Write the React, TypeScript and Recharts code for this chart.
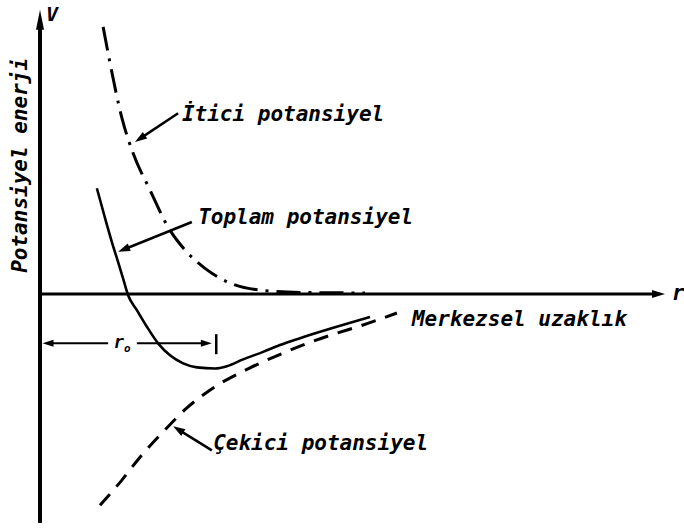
import React from "react";
import { ComposedChart, Line, XAxis, YAxis, ReferenceLine, ReferenceDot } from "recharts";

// repulsive potential (dash-dot)
const iticiR = [1.01, 1.12, 1.31, 1.49, 1.76, 2.05, 2.32, 2.64, 3.07, 3.52, 4.16, 5.2];
const iticiV = [4.67, 4.04, 3.08, 2.46, 1.82, 1.17, 0.77, 0.45, 0.18, 0.07, 0.03, 0.02];

// total potential (solid)
const toplamR = [0.91, 1.04, 1.15, 1.25, 1.33, 1.41, 1.55, 1.71, 1.89, 2.08, 2.29, 2.51, 2.8, 2.99, 3.25, 3.57, 3.84, 4.16, 4.72, 5.28];
const toplamV = [1.85, 1.33, 0.91, 0.56, 0.27, -0.02, -0.28, -0.57, -0.86, -1.07, -1.21, -1.28, -1.3, -1.26, -1.14, -1.01, -0.89, -0.77, -0.58, -0.4];

// attractive potential (dashed)
const cekiciR = [0.96, 1.31, 1.6, 1.95, 2.35, 2.77, 3.36, 3.89, 4.64, 5.17, 5.71];
const cekiciV = [-3.69, -3.25, -2.85, -2.43, -1.99, -1.64, -1.29, -1.03, -0.72, -0.54, -0.33];

const curveLabels = ["İtici potansiyel", "Toplam potansiyel", "Çekici potansiyel"];
const xTitle = "Merkezsel uzaklık";
const yTitle = "Potansiyel enerji";
const r0 = 2.82;

const zip = (xs: number[], ys: number[]) => xs.map((x, i) => ({ x, y: ys[i] }));
const itici = zip(iticiR, iticiV);
const toplam = zip(toplamR, toplamV);
const cekici = zip(cekiciR, cekiciV);

const FONT = '"DejaVu Sans Mono", monospace';

const arrow = (len: number, half: number, w: number) => (p: any) => {
  const { x1, y1, x2, y2 } = p;
  const dx = x2 - x1, dy = y2 - y1;
  const L = Math.hypot(dx, dy) || 1;
  const ux = dx / L, uy = dy / L;
  const bx = x2 - ux * len, by = y2 - uy * len;
  const px = -uy * half, py = ux * half;
  return (
    <g>
      <line x1={x1} y1={y1} x2={bx + ux * 2} y2={by + uy * 2} stroke="#000" strokeWidth={w} />
      <polygon points={`${x2},${y2} ${bx + px},${by + py} ${bx - px},${by - py}`} fill="#000" />
    </g>
  );
};

const plainLine = (w: number) => (p: any) => (
  <line x1={p.x1} y1={p.y1} x2={p.x2} y2={p.y2} stroke="#000" strokeWidth={w} />
);

const txt = (value: string, dx: number, dy: number, size = 21, rotate = 0, anchor = "start") => (p: any) => (
  <text
    x={p.cx + dx}
    y={p.cy + dy}
    fontFamily={FONT}
    fontStyle="italic"
    fontWeight="bold"
    fontSize={size}
    fill="#000"
    textAnchor={anchor as any}
    transform={rotate ? `rotate(${rotate} ${p.cx + dx} ${p.cy + dy})` : undefined}
  >
    {value}
  </text>
);

export default function App() {
  return (
    <div style={{ position: "absolute", left: 0, top: 0, background: "#fff" }}>
      <ComposedChart width={684} height={530} margin={{ top: 8, right: 19, bottom: 7, left: 40 }}>
        <XAxis type="number" dataKey="x" domain={[0, 10]} hide allowDataOverflow />
        <YAxis type="number" domain={[-4, 5]} hide allowDataOverflow />

        {/* axes with arrows */}
        <ReferenceLine segment={[{ x: 0, y: 0 }, { x: 10, y: 0 }]} ifOverflow="visible" shape={arrow(13, 4, 3)} />
        <ReferenceLine segment={[{ x: 0, y: -4 }, { x: 0, y: 4.97 }]} ifOverflow="visible" shape={arrow(20, 4, 4)} />

        <Line data={itici} dataKey="y" type="monotone" stroke="#000" strokeWidth={3} strokeDasharray="24 8 3 8" dot={false} isAnimationActive={false} />
        <Line data={toplam} dataKey="y" type="monotone" stroke="#000" strokeWidth={2.6} dot={false} isAnimationActive={false} />
        <Line data={cekici} dataKey="y" type="monotone" stroke="#000" strokeWidth={3} strokeDasharray="15 10" dot={false} isAnimationActive={false} />

        {/* r0 dimension */}
        <ReferenceLine segment={[{ x: 1.09, y: -0.86 }, { x: 0.04, y: -0.86 }]} ifOverflow="visible" shape={arrow(11, 3.5, 2)} />
        <ReferenceLine segment={[{ x: 1.55, y: -0.86 }, { x: r0 - 0.07, y: -0.86 }]} ifOverflow="visible" shape={arrow(11, 3.5, 2)} />
        <ReferenceLine segment={[{ x: r0, y: -0.7 }, { x: r0, y: -1.05 }]} ifOverflow="visible" shape={plainLine(2.5)} />
        <ReferenceDot x={1.18} y={-0.86} r={0} ifOverflow="visible" shape={(p: any) => (
          <text x={p.cx} y={p.cy + 5} fontFamily={FONT} fontStyle="italic" fontWeight="bold" fontSize={17} fill="#000">
            r<tspan fontSize={11} dy={4}>o</tspan>
          </text>
        )} />

        {/* pointer arrows */}
        <ReferenceLine segment={[{ x: 2.21, y: 3.16 }, { x: 1.52, y: 2.66 }]} ifOverflow="visible" shape={arrow(12, 4, 2.5)} />
        <ReferenceLine segment={[{ x: 2.43, y: 1.26 }, { x: 1.25, y: 0.74 }]} ifOverflow="visible" shape={arrow(12, 4, 2.5)} />
        <ReferenceLine segment={[{ x: 2.75, y: -2.73 }, { x: 2.13, y: -2.31 }]} ifOverflow="visible" shape={arrow(12, 4, 2.5)} />

        {/* labels */}
        <ReferenceDot x={2.27} y={3.03} r={0} ifOverflow="visible" shape={txt(curveLabels[0], 0, 0)} />
        <ReferenceDot x={2.53} y={1.22} r={0} ifOverflow="visible" shape={txt(curveLabels[1], 0, 0)} />
        <ReferenceDot x={2.77} y={-2.73} r={0} ifOverflow="visible" shape={txt(curveLabels[2], 0, 0)} />
        <ReferenceDot x={5.95} y={-0.56} r={0} ifOverflow="visible" shape={txt(xTitle, 0, 0)} />
        <ReferenceDot x={-0.21} y={2.25} r={0} ifOverflow="visible" shape={txt(yTitle, 0, 0, 21, -90, "middle")} />
        <ReferenceDot x={10} y={0} r={0} ifOverflow="visible" shape={txt("r", 7, 6, 21)} />
        <ReferenceDot x={0} y={5} r={0} ifOverflow="visible" shape={txt("V", 6, 13, 20)} />
      </ComposedChart>
    </div>
  );
}
